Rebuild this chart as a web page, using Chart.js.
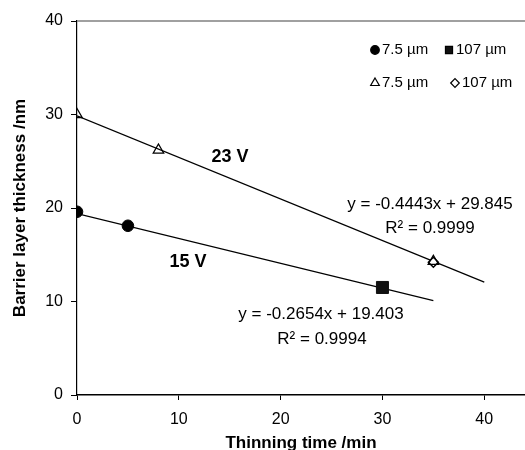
<!DOCTYPE html>
<html>
<head>
<meta charset="utf-8">
<script src="https://cdn.jsdelivr.net/npm/chart.js@4"></script>
<style>
  body { margin: 0; background: #fff; }
  canvas { display: block; }
</style>
</head>
<body>
<canvas id="chart" width="525" height="450"></canvas>
<script>
// values
const xTicks = [0, 10, 20, 30, 40];
const yTicks = [0, 10, 20, 30, 40];

const circle15 = [{ x: 0, y: 19.6 }, { x: 5, y: 18.1 }];
const square15 = [{ x: 30, y: 11.5 }];
const triangle23 = [{ x: 0, y: 30 }, { x: 8, y: 26.2 }, { x: 35, y: 14.3 }];
const diamond23 = [{ x: 35, y: 14.2 }];

// trend line ends as drawn
const trend23 = [{ x: 0, y: 29.85 }, { x: 40, y: 12.07 }];
const trend15 = [{ x: 0, y: 19.4 }, { x: 35, y: 10.1 }];

const legendItems = [
  { style: 'circle', fill: '#000', r: 4.3, label: '7.5 µm', x: 375, y: 50 },
  { style: 'rect', fill: '#111', r: 5, label: '107 µm', x: 449, y: 50 },
  { style: 'triangle', fill: '#fff', r: 5, label: '7.5 µm', x: 375, y: 83 },
  { style: 'rectRot', fill: '#fff', r: 4.3, label: '107 µm', x: 455, y: 83 }
];

const notes = [
  { text: '23 V', x: 230, y: 157, bold: true, size: 18 },
  { text: '15 V', x: 188, y: 262, bold: true, size: 18 },
  { text: 'y = -0.4443x + 29.845', x: 430, y: 204, size: 17 },
  { text: 'R² = 0.9999', x: 430, y: 228, size: 17 },
  { text: 'y = -0.2654x + 19.403', x: 321, y: 314, size: 17 },
  { text: 'R² = 0.9994', x: 322, y: 339, size: 17 }
];

const FONT = '"Liberation Sans", Arial, Helvetica, sans-serif';

const extras = {
  id: 'extras',
  afterDraw(chart) {
    const ctx = chart.ctx;
    const area = chart.chartArea;
    ctx.save();
    // grey top frame line
    ctx.strokeStyle = '#808080';
    ctx.lineWidth = 1.5;
    ctx.beginPath();
    ctx.moveTo(area.left, area.top);
    ctx.lineTo(area.right, area.top);
    ctx.stroke();

    // legend
    ctx.font = '15px ' + FONT;
    ctx.textBaseline = 'middle';
    ctx.textAlign = 'left';
    legendItems.forEach(item => {
      ctx.fillStyle = item.fill;
      ctx.strokeStyle = '#000';
      ctx.lineWidth = 1.2;
      Chart.helpers.drawPoint(ctx, {
        pointStyle: item.style,
        radius: item.r,
        rotation: 0,
        borderWidth: 1.2
      }, item.x, item.y);
      ctx.fillStyle = '#000';
      ctx.fillText(item.label, item.x + 7, item.y);
    });

    // annotations
    ctx.textAlign = 'center';
    notes.forEach(n => {
      ctx.font = (n.bold ? 'bold ' : '') + n.size + 'px ' + FONT;
      ctx.fillStyle = '#000';
      ctx.fillText(n.text, n.x, n.y);
    });
    ctx.restore();
  }
};

const tickFont = { family: FONT, size: 16 };
const titleFont = { family: FONT, size: 17, weight: 'bold', lineHeight: 1 };

new Chart(document.getElementById('chart'), {
  type: 'scatter',
  data: {
    datasets: [
      { data: square15, pointStyle: 'rect', pointRadius: 8.5, backgroundColor: '#111', borderColor: '#111', borderWidth: 1 },
      { data: triangle23, pointStyle: 'triangle', pointRadius: 6, backgroundColor: 'rgba(255,255,255,0)', borderColor: '#000', borderWidth: 1.3 },
      { data: diamond23, pointStyle: 'rectRot', pointRadius: 5, backgroundColor: '#fff', borderColor: '#000', borderWidth: 1.5 },
      { data: circle15, pointStyle: 'circle', pointRadius: 5.8, backgroundColor: '#000', borderColor: '#000', borderWidth: 1 },
      { type: 'line', data: trend23, borderColor: '#000', borderWidth: 1.2, pointRadius: 0, fill: false },
      { type: 'line', data: trend15, borderColor: '#000', borderWidth: 1.2, pointRadius: 0, fill: false }
    ]
  },
  options: {
    responsive: false,
    animation: false,
    layout: { autoPadding: false, padding: { top: 21, right: 0, left: 0, bottom: 0 } },
    plugins: { legend: { display: false }, tooltip: { enabled: false } },
    scales: {
      x: {
        type: 'linear',
        min: 0,
        max: 44,
        afterBuildTicks: s => { s.ticks = xTicks.map(v => ({ value: v })); },
        afterFit: s => { s.height = 55; s.paddingRight = 0; s.paddingLeft = 0; },
        grid: { drawOnChartArea: false, drawTicks: true, tickLength: 5, color: '#000' },
        border: { display: true, color: '#000', width: 1.5 },
        ticks: { font: tickFont, color: '#000', padding: 10, maxRotation: 0 },
        title: { display: true, text: 'Thinning time /min', font: titleFont, color: '#000', padding: { top: 0, bottom: -2 } }
      },
      y: {
        min: 0,
        max: 40,
        afterBuildTicks: s => { s.ticks = yTicks.map(v => ({ value: v })); },
        afterFit: s => { s.width = 77; },
        grid: { drawOnChartArea: false, drawTicks: true, tickLength: 6, color: '#000' },
        border: { display: true, color: '#000', width: 1.2 },
        ticks: { font: tickFont, color: '#000', padding: 8 },
        title: { display: true, text: 'Barrier layer thickness /nm', font: titleFont, color: '#000', padding: { top: 11.5, bottom: 0 } }
      }
    }
  },
  plugins: [extras]
});
</script>
</body>
</html>
